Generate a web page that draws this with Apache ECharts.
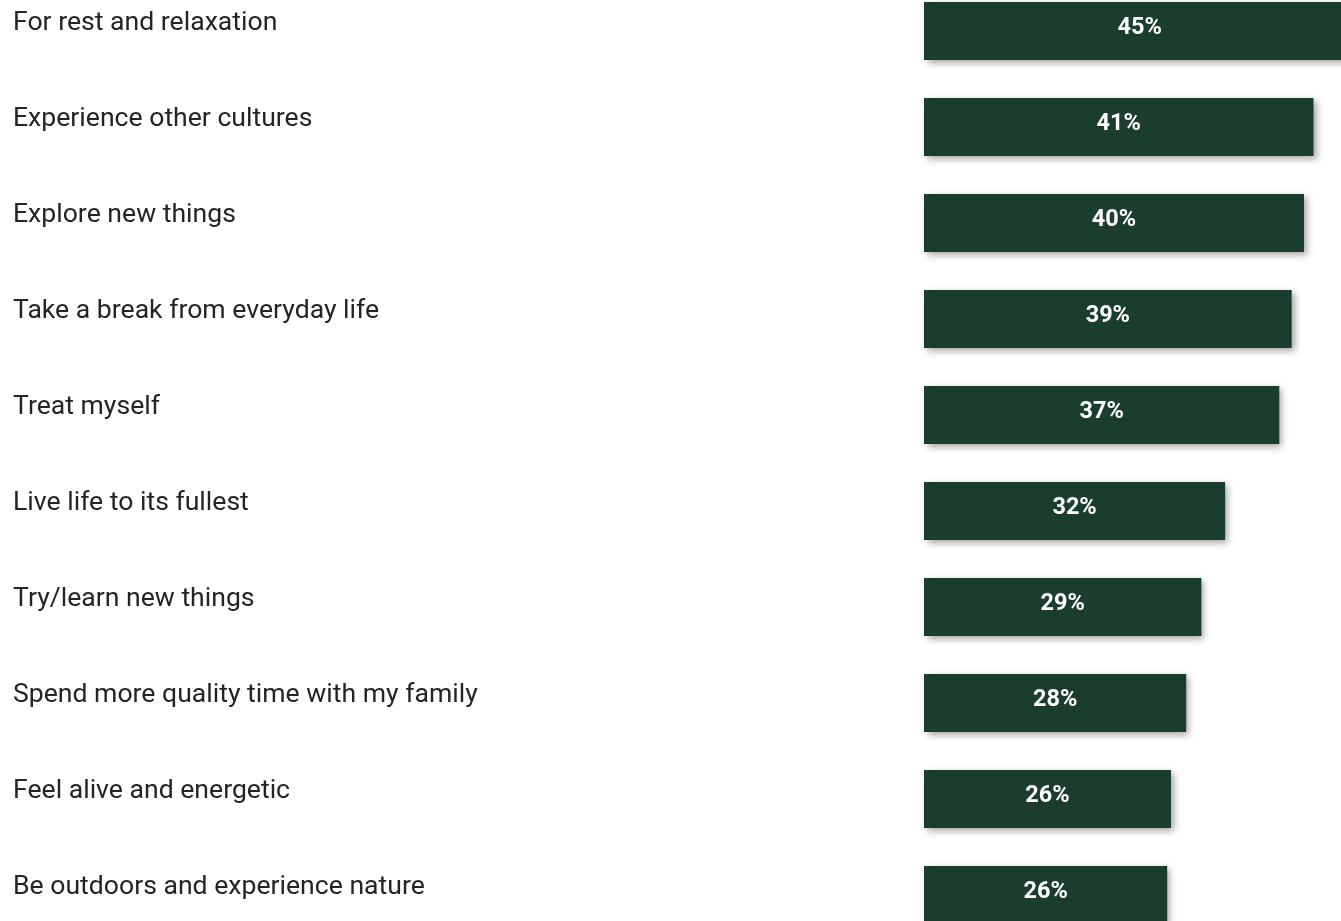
<!DOCTYPE html>
<html>
<head>
<meta charset="utf-8">
<style>
html,body{margin:0;padding:0;background:#fff;}
#chart{width:1341px;height:921px;}
</style>
<script src="https://cdn.jsdelivr.net/npm/echarts@6/dist/echarts.min.js"></script>
</head>
<body>
<div id="chart"></div>
<script>
const categories = [
  "For rest and relaxation",
  "Experience other cultures",
  "Explore new things",
  "Take a break from everyday life",
  "Treat myself",
  "Live life to its fullest",
  "Try/learn new things",
  "Spend more quality time with my family",
  "Feel alive and energetic",
  "Be outdoors and experience nature"
];
const values = [45.4, 41.0, 40.0, 38.7, 37.4, 31.7, 29.2, 27.6, 26.0, 25.6];

const chart = echarts.init(document.getElementById('chart'));
chart.setOption({
  animation: false,
  backgroundColor: '#ffffff',
  grid: { left: 924, top: -17, width: 475, height: 960, outerBoundsMode: 'none', containLabel: false },
  xAxis: { type: 'value', min: 0, max: 50, show: false },
  yAxis: {
    type: 'category',
    data: categories,
    inverse: true,
    axisLine: { show: false },
    axisTick: { show: false },
    splitLine: { show: false },
    axisLabel: {
      align: 'left',
      margin: 911,
      verticalAlign: 'bottom',
      fontFamily: 'Roboto',
      fontSize: 26.6,
      lineHeight: 16,
      color: '#242424'
    }
  },
  series: [{
    type: 'bar',
    data: values,
    barWidth: 58,
    itemStyle: {
      color: '#1b3d2d',
      shadowColor: 'rgba(0,0,0,0.35)',
      shadowBlur: 7,
      shadowOffsetX: 3,
      shadowOffsetY: 3
    },
    label: {
      show: true,
      position: 'inside',
      offset: [0, -3],
      formatter: p => Math.round(p.value) + '%',
      color: '#ffffff',
      fontFamily: 'Roboto',
      fontWeight: 'bold',
      fontSize: 23.5
    }
  }]
});
</script>
</body>
</html>
